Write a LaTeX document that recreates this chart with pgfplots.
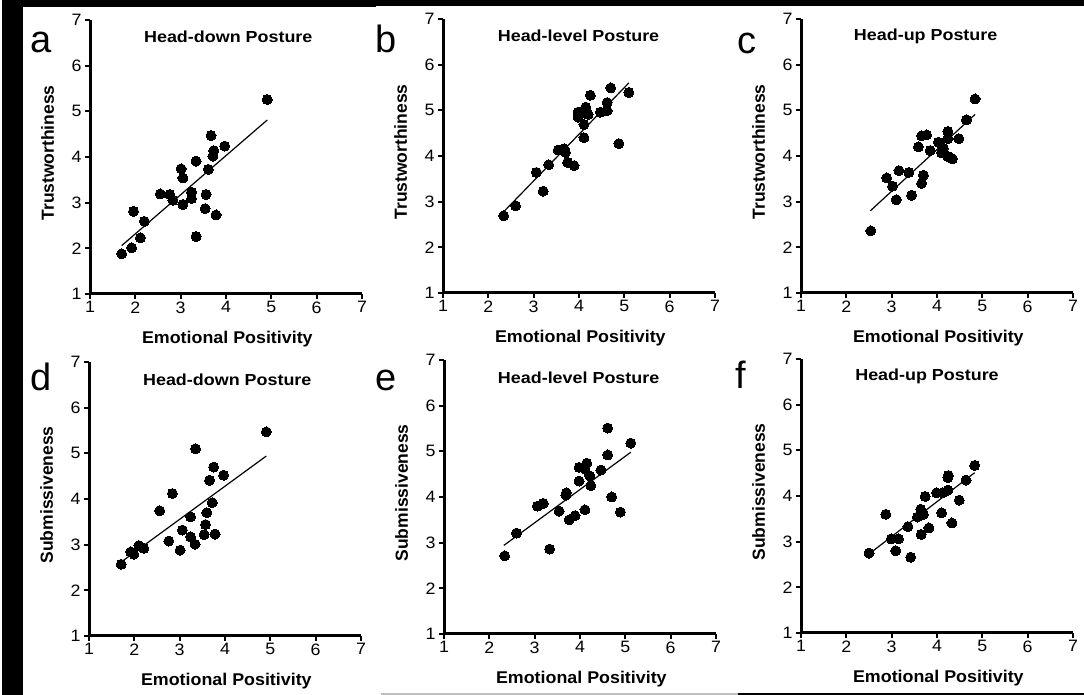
\documentclass[border=0pt]{standalone}
\usepackage{fontspec}
\setmainfont{Liberation Sans}
\newfontfamily\titlefont[FakeStretch=1.12]{Liberation Sans}
\newfontfamily\xlabfont[FakeStretch=1.05]{Liberation Sans}
\newfontfamily\ticfont[FakeStretch=1.08]{Liberation Sans}
\usepackage{pgfplots}
\pgfplotsset{compat=1.18}

\tikzset{ttl/.style={font=\titlefont\bfseries\fontsize{16}{16}\selectfont}}
\pgfplotsset{
  panel/.style={
    scale only axis, width=272pt, height=274pt,
    xmin=1,xmax=7,ymin=1,ymax=7, xtick={1,2,3,4,5,6,7}, ytick={1,2,3,4,5,6,7},
    axis x line=bottom, axis y line=left,
    x axis line style={line width=3pt, -},
    y axis line style={line width=3pt, -},
    xtick style={line width=2pt, black}, ytick style={line width=2pt, black},
    tick align=outside, major tick length=5pt,
    xticklabel style={font=\ticfont\fontsize{16.5}{16.5}\selectfont, yshift=1pt},
    yticklabel style={font=\ticfont\fontsize{16.5}{16.5}\selectfont},
    xticklabel={\pgfmathprintnumber[assume math mode=true]{\tick}},
    yticklabel={\pgfmathprintnumber[assume math mode=true]{\tick}},
    xlabel={Emotional Positivity},
    xlabel style={font=\xlabfont\bfseries\fontsize{17}{17}\selectfont, at={(axis description cs:0.505,-0.164)}, anchor=center},
    ylabel style={font=\bfseries\fontsize{17.5}{17.5}\selectfont, at={(axis description cs:-0.156,0.515)}, anchor=center},
    clip=false,
  },
  pts/.style={only marks, mark=*, mark size=5pt, mark options={fill=black,draw=black,line width=0pt}},
  fit/.style={no marks, black, line width=1.2pt},
}

\begin{document}
\begin{tikzpicture}[x=1pt,y=1pt]
% scan borders
\fill[black] (2,0) rectangle (22.5,695);
\fill[black] (7,689) rectangle (1084,695);
\fill[black] (7,688) rectangle (376,695);
\fill[black] (738,0) rectangle (1084,1.5);
\fill[black!25] (381,0) rectangle (738,1.5);

% ---------- a ----------
\begin{axis}[panel, at={(90pt,401pt)}, anchor=south west, ylabel={Trustworthiness}]
\addplot[pts] coordinates {(1.70,1.88) (1.92,2.01) (1.96,2.81) (2.11,2.23) (2.20,2.59) (2.55,3.19) (2.76,3.18) (2.83,3.05) (3.01,3.74) (3.05,3.54) (3.05,2.96) (3.24,3.23) (3.24,3.09) (3.34,3.91) (3.34,2.26) (3.56,3.18) (3.54,2.87) (3.61,3.73) (3.67,4.47) (3.71,4.02) (3.73,4.14) (3.78,2.73) (3.97,4.24) (4.91,5.26)};
\addplot[fit] coordinates {(1.70,2.06) (4.91,4.81)};
\node[ttl] at (axis cs:4.05,6.64) {Head-down Posture};
\end{axis}

% ---------- b ----------
\begin{axis}[panel, at={(443pt,402pt)}, anchor=south west, ylabel={Trustworthiness}]
\addplot[pts] coordinates {(2.34,2.69) (2.60,2.91) (3.06,3.64) (3.21,3.23) (3.33,3.81) (3.54,4.13) (3.67,4.16) (3.70,4.08) (3.75,3.86) (3.89,3.79) (3.98,4.96) (3.98,4.85) (4.11,4.69) (4.11,4.40) (4.15,5.07) (4.20,4.91) (4.25,5.33) (4.47,4.96) (4.62,4.99) (4.62,5.17) (4.70,5.49) (4.88,4.27) (5.10,5.39)};
\addplot[fit] coordinates {(2.33,2.77) (5.10,5.60)};
\node[ttl] at (axis cs:3.99,6.63) {Head-level Posture};
\end{axis}

% ---------- c ----------
\begin{axis}[panel, at={(801pt,402pt)}, anchor=south west, ylabel={Trustworthiness}]
\addplot[pts] coordinates {(2.54,2.36) (2.89,3.52) (3.02,3.34) (3.10,3.04) (3.16,3.68) (3.38,3.64) (3.44,3.14) (3.59,4.20) (3.66,4.44) (3.77,4.46) (3.66,3.40) (3.70,3.58) (3.85,4.12) (4.03,4.30) (4.14,4.17) (4.10,4.07) (4.24,4.54) (4.24,4.38) (4.24,3.99) (4.34,3.94) (4.48,4.38) (4.65,4.79) (4.84,5.25)};
\addplot[fit] coordinates {(2.53,2.80) (4.84,4.91)};
\node[ttl] at (axis cs:3.75,6.63) {Head-up Posture};
\end{axis}

% ---------- d ----------
\begin{axis}[panel, at={(89pt,59pt)}, anchor=south west, ylabel={Submissiveness}]
\addplot[pts] coordinates {(1.71,2.57) (1.92,2.84) (1.99,2.79) (2.10,2.98) (2.21,2.92) (2.56,3.74) (2.76,3.08) (2.84,4.12) (3.01,2.88) (3.06,3.32) (3.24,3.61) (3.24,3.17) (3.34,3.01) (3.35,5.10) (3.54,3.22) (3.57,3.44) (3.60,3.70) (3.66,4.41) (3.72,3.92) (3.75,4.70) (3.78,3.23) (3.97,4.52) (4.91,5.47)};
\addplot[fit] coordinates {(1.71,2.62) (4.91,4.94)};
\node[ttl] at (axis cs:4.05,6.61) {Head-down Posture};
\end{axis}

% ---------- e ----------
\begin{axis}[panel, at={(444pt,61pt)}, anchor=south west, ylabel={Submissiveness}]
\addplot[pts] coordinates {(2.34,2.71) (2.60,3.21) (3.06,3.80) (3.19,3.86) (3.33,2.86) (3.54,3.69) (3.69,4.04) (3.70,4.09) (3.76,3.50) (3.89,3.59) (3.98,4.35) (3.98,4.65) (4.11,3.72) (4.11,4.61) (4.15,4.74) (4.22,4.46) (4.24,4.25) (4.46,4.59) (4.61,5.51) (4.61,4.92) (4.70,4.00) (4.89,3.67) (5.12,5.18)};
\addplot[fit] coordinates {(2.32,2.94) (5.12,4.98)};
\node[ttl] at (axis cs:3.97,6.62) {Head-level Posture};
\end{axis}

% ---------- f ----------
\begin{axis}[panel, at={(801pt,62pt)}, anchor=south west, ylabel={Submissiveness}]
\addplot[pts] coordinates {(2.50,2.75) (2.87,3.60) (2.99,3.06) (3.09,2.80) (3.15,3.06) (3.36,3.33) (3.42,2.66) (3.57,3.54) (3.64,3.71) (3.65,3.16) (3.70,3.60) (3.74,3.99) (3.82,3.30) (3.99,4.07) (4.10,3.63) (4.12,4.07) (4.24,4.13) (4.24,4.40) (4.25,4.45) (4.33,3.41) (4.49,3.91) (4.64,4.35) (4.83,4.67)};
\addplot[fit] coordinates {(2.50,2.73) (4.83,4.51)};
\node[ttl] at (axis cs:3.78,6.62) {Head-up Posture};
\end{axis}

% panel letters
\node[anchor=base west, inner sep=0pt, font=\fontsize{38}{38}\selectfont] at (30,642) {a};
\node[anchor=base west, inner sep=0pt, font=\fontsize{38}{38}\selectfont] at (375,642) {b};
\node[anchor=base west, inner sep=0pt, font=\fontsize{38}{38}\selectfont] at (737,641.5) {c};
\node[anchor=base west, inner sep=0pt, font=\fontsize{38}{38}\selectfont] at (30,304.7) {d};
\node[anchor=base west, inner sep=0pt, font=\fontsize{38}{38}\selectfont] at (375,304.7) {e};
\node[anchor=base west, inner sep=0pt, font=\fontsize{38}{38}\selectfont] at (735,306.3) {f};

\pgfresetboundingbox
\useasboundingbox (0,0) rectangle (1084,695);
\end{tikzpicture}
\end{document}
